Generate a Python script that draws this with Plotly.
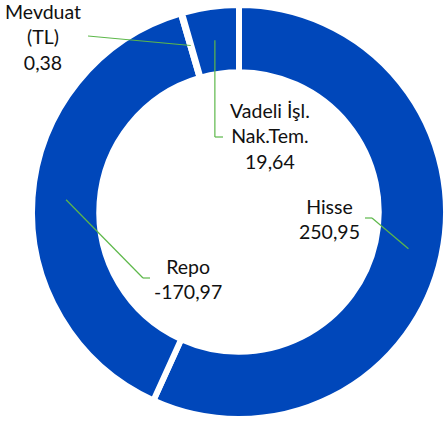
import math
import plotly.graph_objects as go

# ---- data ----
categories = ["Hisse", "Repo", "Mevduat<br>(TL)", "Vadeli İşl.<br>Nak.Tem."]
values = [250.95, -170.97, 0.38, 19.64]

# ---- layout constants (pixel coordinates of the 447x424 window) ----
W, H = 447, 424
CX, CY, R = 239, 212, 207
HOLE = 0.675
BLUE = "#0047BA"
GREEN = "#5DB84A"
FONT = "Lato"

# label block centres (pixels) and leader line points from the label side
label_pos = [(329, 219), (188, 279), (43, 37), (270, 136)]
leader_pts = [
    [(365, 218), (372, 218)],
    [(150, 278), (143, 278)],
    [(88, 36)],
    [(223, 137), ("ax", 137)],
]


def fmt(v):
    return f"{v:.2f}".replace(".", ",")


def px2paper(x, y):
    return x / W, 1 - y / H


abs_vals = [abs(v) for v in values]
total = sum(abs_vals)

dx0, dy1 = px2paper(CX - R, CY - R)
dx1, dy0 = px2paper(CX + R, CY + R)

fig = go.Figure()
fig.add_trace(go.Pie(
    labels=categories,
    values=abs_vals,
    sort=False,
    direction="clockwise",
    rotation=0,
    hole=HOLE,
    marker=dict(colors=[BLUE] * len(values), line=dict(color="white", width=6)),
    textinfo="none",
    hoverinfo="label+value",
    showlegend=False,
    domain=dict(x=[max(dx0, 0), min(dx1, 1)], y=[max(dy0, 0), min(dy1, 1)]),
))

r_mid = R * (1 + HOLE) / 2
cum = 0.0
annotations = []
shapes = []
for i, (cat, v) in enumerate(zip(categories, values)):
    ang = (cum + abs(v) / 2) / total * 2 * math.pi
    cum += abs(v)
    ax = CX + r_mid * math.sin(ang)
    ay = CY - r_mid * math.cos(ang)
    pts = [(ax if x == "ax" else x, y) for (x, y) in leader_pts[i]]
    pts.append((ax, ay))
    for (x0, y0), (x1, y1) in zip(pts[:-1], pts[1:]):
        p0 = px2paper(x0, y0)
        p1 = px2paper(x1, y1)
        shapes.append(dict(type="line", xref="paper", yref="paper",
                           x0=p0[0], y0=p0[1], x1=p1[0], y1=p1[1],
                           line=dict(color=GREEN, width=1.2)))
    lx, ly = px2paper(*label_pos[i])
    annotations.append(dict(
        x=lx, y=ly, xref="paper", yref="paper",
        text=f"{cat}<br>{fmt(v)}", showarrow=False,
        xanchor="center", yanchor="middle", align="center",
        font=dict(family=FONT, size=19.5, color="#111111"),
    ))

fig.update_layout(
    width=W, height=H,
    margin=dict(l=0, r=0, t=0, b=0),
    paper_bgcolor="white", plot_bgcolor="white",
    shapes=shapes, annotations=annotations,
)

fig.write_html("out.html", config={"displayModeBar": False},
               post_script="document.body.style.margin='0';")
